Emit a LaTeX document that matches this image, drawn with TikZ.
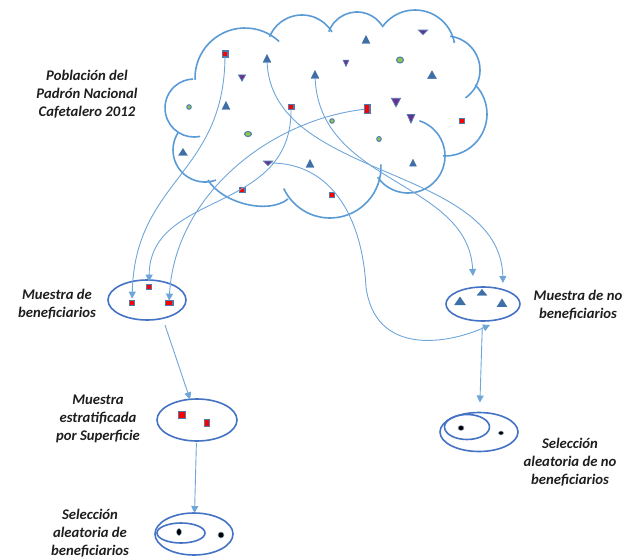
\documentclass[tikz,border=0pt]{standalone}
\usepackage{fontspec}
\setmainfont{Carlito}
\usetikzlibrary{shapes.geometric,arrows.meta}
\definecolor{cloudc}{HTML}{5B9BD5}
\definecolor{connc}{HTML}{6FA6DA}
\definecolor{ellc}{HTML}{4472C4}
\definecolor{bordc}{HTML}{4F7AAE}
\definecolor{trifill}{HTML}{3E6FA6}
\definecolor{purp}{HTML}{6B2D8F}
\definecolor{greenf}{HTML}{8CC850}
\definecolor{txt}{HTML}{1E1E1E}
\tikzset{
 cloudline/.style={draw=cloudc, line width=1.6pt},
 conn/.style={draw=connc, line width=0.9pt, -{Triangle[length=7pt,width=7pt]}},
 rsq/.style 2 args={rectangle, draw=bordc, fill=red, line width=1.3pt, inner sep=0pt, outer sep=0pt, minimum width=#1pt, minimum height=#2pt},
 utri/.style 2 args={isosceles triangle, isosceles triangle stretches, rotate=90, fill=trifill, draw=trifill, line width=0.3pt, inner sep=0pt, outer sep=0pt, minimum width=#2pt, minimum height=#1pt},
 dtri/.style 2 args={isosceles triangle, isosceles triangle stretches, rotate=-90, fill=purp, draw=bordc, line width=0.8pt, inner sep=0pt, outer sep=0pt, minimum width=#2pt, minimum height=#1pt},
 gdot/.style 2 args={ellipse, fill=greenf, draw=bordc, line width=1pt, inner sep=0pt, outer sep=0pt, minimum width=#1pt, minimum height=#2pt},
 bdot/.style 2 args={ellipse, fill=black, draw=bordc!60, line width=0.5pt, inner sep=0pt, outer sep=0pt, minimum width=#1pt, minimum height=#2pt},
 cont/.style 2 args={ellipse, draw=ellc, line width=1.6pt, inner sep=0pt, outer sep=0pt, minimum width=#1pt, minimum height=#2pt},
 lab/.style={text=txt, font=\bfseries\itshape\fontsize{14.7}{18}\selectfont, align=center, inner sep=0pt},
}
\begin{document}
\begin{tikzpicture}[x=1pt,y=1pt,yscale=-1]
\useasboundingbox (0,0) rectangle (624,559);
% cloud
\draw[cloudline] (245,78) ++(-182:50) arc[start angle=-182, end angle=-47, radius=50];
\draw[cloudline] (302,50) ++(-158:35) arc[start angle=-158, end angle=-31, radius=35];
\draw[cloudline] (357,42) ++(-160:30) arc[start angle=-160, end angle=-33, radius=30];
\draw[cloudline] (415,50) ++(-145:40) arc[start angle=-145, end angle=-10, radius=40];
\draw[cloudline] (446,70) ++(-83:34) arc[start angle=-83, end angle=55, radius=34];
\draw[cloudline] (445,114) ++(-44:42) arc[start angle=-44, end angle=93, radius=42];
\draw[cloudline] (408,156) ++(-72:37) arc[start angle=-72, end angle=145, radius=37];
\draw[cloudline] (330,167) ++(-3:51) arc[start angle=-3, end angle=155, radius=51];
\draw[cloudline] (208,180) .. controls (222,203) and (268,215) .. (288,199);
\draw[cloudline] (205,150) ++(70:32) arc[start angle=70, end angle=214, radius=32];
\draw[cloudline] (194,108) ++(78:29) arc[start angle=78, end angle=268, radius=29];

% cloud markers
\node[rsq={5.7}{6.2}] (s1) at (225,54) {};
\node[rsq={5.7}{4.7}] (s2) at (291,107) {};
\node[rsq={5.7}{8.7}] (s3) at (367,109) {};
\node[rsq={4.7}{4.7}] (s4) at (462,121) {};
\node[rsq={5.7}{5.2}] (s5) at (242,190) {};
\node[rsq={4.7}{4.7}] (s6) at (332,195) {};
\node[utri={8}{8}] (t1) at (267,60) {};
\node[utri={8}{8}] (t2) at (366,41) {};
\node[utri={8}{8}] (t3) at (315,76) {};
\node[utri={8}{9}] (t4) at (432,76) {};
\node[utri={8}{8}] (t5) at (226,107) {};
\node[utri={7}{9}] (t6) at (183,153) {};
\node[utri={8}{8}] (t7) at (310,165) {};
\node[utri={7}{7}] (t8) at (413,164) {};
\node[dtri={6}{7}] (d1) at (242,77) {};
\node[dtri={6}{5.5}] (d2) at (346,62) {};
\node[dtri={4.5}{9}] (d3) at (423,32) {};
\node[dtri={8.5}{9}] (d4) at (396,101) {};
\node[dtri={8.5}{7.5}] (d5) at (411,117) {};
\node[dtri={4.5}{9}] (d6) at (268,163) {};
\node[gdot={4.5}{4.5}] (g1) at (189,107) {};
\node[gdot={7}{5}] (g2) at (248,134) {};
\node[gdot={7}{6}] (g3) at (400,60) {};
\node[gdot={4.5}{4.5}] (g4) at (332,121) {};
\node[gdot={4.5}{5}] (g5) at (379,139) {};

% containers
\node[cont={78}{40}] (mb) at (147,300) {};
\node[cont={74}{34}] (mn) at (483,304) {};
\node[cont={80}{42}] (me) at (197,420) {};
\node[cont={78}{39}] (sn) at (479,432) {};
\node[cont={45}{25}] (sni) at (467,427) {};
\node[cont={78}{42}] (ms) at (194,534) {};
\node[cont={48}{20}] (msi) at (181,533) {};

\node[rsq={5.2}{4.7}] (b1) at (132,303) {};
\node[rsq={5.2}{4.7}] (b2) at (149,287) {};
\node[rsq={7.7}{4.7}] (b3) at (169,303) {};
\node[rsq={6.7}{6.7}] (e1) at (182,415) {};
\node[rsq={4.7}{7.2}] (e2) at (207,423) {};
\node[utri={8}{11}] (n1) at (460,302) {};
\node[utri={6}{10}] (n2) at (482,293) {};
\node[utri={8}{10}] (n3) at (502,304) {};
\node[bdot={6}{5}] (k1) at (461,428) {};
\node[bdot={5}{4}] (k2) at (501,433) {};
\node[bdot={5}{7}] (k3) at (179,532) {};
\node[bdot={6}{6}] (k4) at (221,535) {};

% free ends
\coordinate (mnA) at (473,276);
\coordinate (mnB) at (503,283);
\coordinate (mnC) at (490,325);
\coordinate (mbOut) at (165,325);

% connectors
\draw[conn, shorten >=2pt] (s1) .. controls (224,175) and (135,180) .. (b1);
\draw[conn, shorten >=3pt] (s2) .. controls (292,215) and (150,190) .. (b2);
\draw[conn] (s3) .. controls (270,120) and (175,195) .. (b3);
\draw[conn] (t1) .. controls (272,180) and (500,165) .. (mnB);
\draw[conn] (t3) .. controls (320,185) and (468,180) .. (mnA);
\draw[conn] (d6) .. controls (330,163) and (362,215) .. (366,287) .. controls (375,355) and (445,345) .. (mnC);
\draw[conn] (mbOut) -- (me);
\draw[conn, shorten <=2pt] (me) -- (ms);
\draw[conn, shorten <=6pt, shorten >=10pt] (mn) -- (sn);

% labels
\node[lab] (l1) at (87,94.5) {Población del\\Padrón Nacional\\Cafetalero 2012};
\node[lab] (l2) at (57,304) {Muestra de\\beneficiarios};
\node[lab] (l3) at (578,305) {Muestra de no\\beneficiarios};
\node[lab] (l4) at (98,419) {Muestra\\estratificada\\por Superficie};
\node[lab] (l5) at (570,462) {Selección\\aleatoria de no\\beneficiarios};
\node[lab] (l6) at (90,533.5) {Selección\\aleatoria de\\beneficiarios};
\end{tikzpicture}
\end{document}
